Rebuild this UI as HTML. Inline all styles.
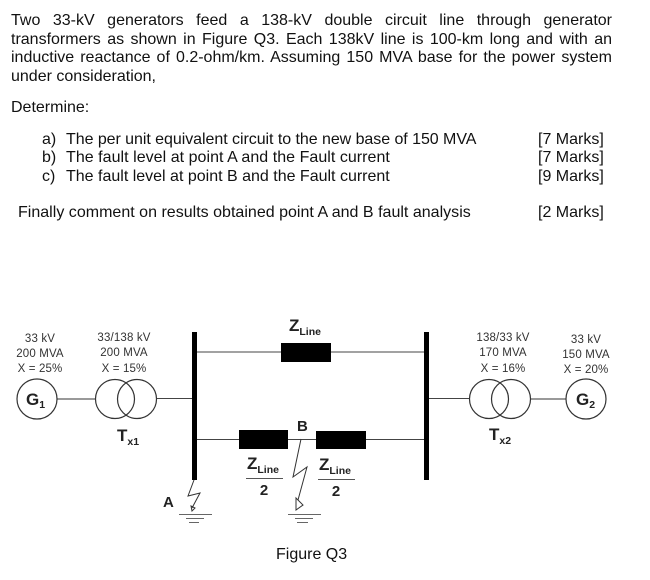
<!DOCTYPE html>
<html>
<head>
<meta charset="utf-8">
<style>
html,body{margin:0;padding:0;background:#fff;}
#page{position:relative;width:650px;height:580px;overflow:hidden;background:#fff;font-family:"Liberation Sans",Arial,sans-serif;font-size:16px;color:#111;}
.t{position:absolute;line-height:18px;white-space:nowrap;}
.j{position:absolute;left:11px;width:601px;line-height:18px;text-align:justify;text-align-last:justify;}
svg{position:absolute;left:0;top:0;}
svg text{font-family:"Liberation Sans",Arial,sans-serif;fill:#222;}
.s{font-size:11.5px;text-anchor:middle;fill:#333;letter-spacing:.15px;}
.b{font-weight:bold;}
</style>
</head>
<body>
<div id="page">
<div class="j" style="top:12px">Two 33-kV generators feed a 138-kV double circuit line through generator</div>
<div class="j" style="top:31px">transformers as shown in Figure Q3. Each 138kV line is 100-km long and with an</div>
<div class="j" style="top:49px">inductive reactance of 0.2-ohm/km. Assuming 150 MVA base for the power system</div>
<div class="t" style="left:11px;top:68px">under consideration,</div>
<div class="t" style="left:11px;top:99px">Determine:</div>

<div class="t" style="left:42px;top:131px">a)</div><div class="t" style="left:66px;top:131px;letter-spacing:-.05px">The per unit equivalent circuit to the new base of 150 MVA</div>
<div class="t" style="left:42px;top:149px">b)</div><div class="t" style="left:66px;top:149px;letter-spacing:.04px">The fault level at point A and the Fault current</div>
<div class="t" style="left:42px;top:168px">c)</div><div class="t" style="left:66px;top:168px">The fault level at point B and the Fault current</div>
<div class="t" style="left:18px;top:204px;letter-spacing:.015px">Finally comment on results obtained point A and B fault analysis</div>

<div class="t" style="left:538px;top:131px">[7 Marks]</div>
<div class="t" style="left:538px;top:149px">[7 Marks]</div>
<div class="t" style="left:538px;top:168px">[9 Marks]</div>
<div class="t" style="left:538px;top:204px">[2 Marks]</div>

<svg width="650" height="580" viewBox="0 0 650 580">
  <!-- buses -->
  <rect x="192" y="332" width="5" height="148" fill="#000"/>
  <rect x="424" y="332" width="5" height="148" fill="#000"/>

  <!-- lines -->
  <g stroke="#444" stroke-width="1" fill="none">
    <line x1="197" y1="352" x2="424" y2="352"/>
    <line x1="197" y1="439.500" x2="424" y2="439.500"/>
    <line x1="157" y1="398.500" x2="192" y2="398.500"/>
    <line x1="429" y1="398.500" x2="469" y2="398.500"/>
  </g>
  <g stroke="#999" stroke-width="2" fill="none">
    <line x1="57" y1="399" x2="95" y2="399"/>
    <line x1="531" y1="399" x2="566" y2="399"/>
  </g>

  <!-- impedance boxes -->
  <rect x="281" y="343" width="50" height="19" fill="#000"/>
  <rect x="239" y="430" width="49" height="19" fill="#000"/>
  <rect x="316" y="431" width="50" height="18" fill="#000"/>

  <!-- machines and transformers -->
  <g stroke="#333" stroke-width="1.200" fill="none">
    <circle cx="37" cy="399" r="20"/>
    <circle cx="115" cy="399" r="19.500"/>
    <circle cx="137" cy="399" r="19.500"/>
    <circle cx="489" cy="399" r="19.500"/>
    <circle cx="511" cy="399" r="19.500"/>
    <circle cx="586" cy="399" r="20"/>
  </g>

  <!-- faults -->
  <g stroke="#333" stroke-width="1" fill="none">
    <polyline points="194,480 188,496 200,493 192,508"/>
    <polygon points="191,506 195,508 192,511"/>
    <polyline points="301,439 293,477 307,467 298,500"/>
    <polygon points="296,498 303,505 296,510"/>
  </g>

  <!-- grounds -->
  <g stroke="#666" stroke-width="1" fill="none">
    <line x1="179" y1="514.500" x2="212" y2="514.500"/>
    <line x1="186" y1="518.500" x2="204" y2="518.500"/>
    <line x1="189" y1="522.500" x2="199" y2="522.500"/>
    <line x1="288" y1="514.500" x2="321" y2="514.500"/>
    <line x1="295" y1="518.500" x2="313" y2="518.500"/>
    <line x1="297" y1="522.500" x2="308" y2="522.500"/>
  </g>

  <!-- fraction bars -->
  <line x1="246" y1="478.500" x2="283" y2="478.500" stroke="#555" stroke-width="1"/>
  <line x1="318" y1="479.500" x2="355" y2="479.500" stroke="#555" stroke-width="1"/>

  <!-- ratings -->
  <text class="s" x="40" y="342">33 kV</text>
  <text class="s" x="40" y="357">200 MVA</text>
  <text class="s" x="40" y="372">X = 25%</text>
  <text class="s" x="124" y="341">33/138 kV</text>
  <text class="s" x="124" y="356">200 MVA</text>
  <text class="s" x="124" y="372">X = 15%</text>
  <text class="s" x="503" y="341">138/33 kV</text>
  <text class="s" x="503" y="356">170 MVA</text>
  <text class="s" x="503" y="372">X = 16%</text>
  <text class="s" x="586" y="343">33 kV</text>
  <text class="s" x="586" y="358">150 MVA</text>
  <text class="s" x="586" y="373">X = 20%</text>

  <!-- bold labels -->
  <text class="b" x="26" y="405" font-size="17">G<tspan font-size="10.500" dy="3">1</tspan></text>
  <text class="b" x="576" y="405" font-size="17">G<tspan font-size="10.500" dy="3">2</tspan></text>
  <text class="b" x="117" y="441" font-size="17">T<tspan font-size="10.500" dy="4">x1</tspan></text>
  <text class="b" x="489" y="440" font-size="17">T<tspan font-size="10.500" dy="4">x2</tspan></text>
  <text class="b" x="289" y="331" font-size="17">Z<tspan font-size="10.500" dy="4">Line</tspan></text>
  <text class="b" x="247" y="469" font-size="17">Z<tspan font-size="10.500" dy="4">Line</tspan></text>
  <text class="b" x="319" y="470" font-size="17">Z<tspan font-size="10.500" dy="4">Line</tspan></text>
  <text class="b" x="264" y="495" font-size="15" text-anchor="middle">2</text>
  <text class="b" x="336" y="496" font-size="15" text-anchor="middle">2</text>
  <text class="b" x="163" y="507" font-size="15">A</text>
  <text class="b" x="297" y="431" font-size="15">B</text>

  <text x="276" y="559" font-size="16" style="fill:#111">Figure Q3</text>
</svg>
</div>
</body>
</html>
